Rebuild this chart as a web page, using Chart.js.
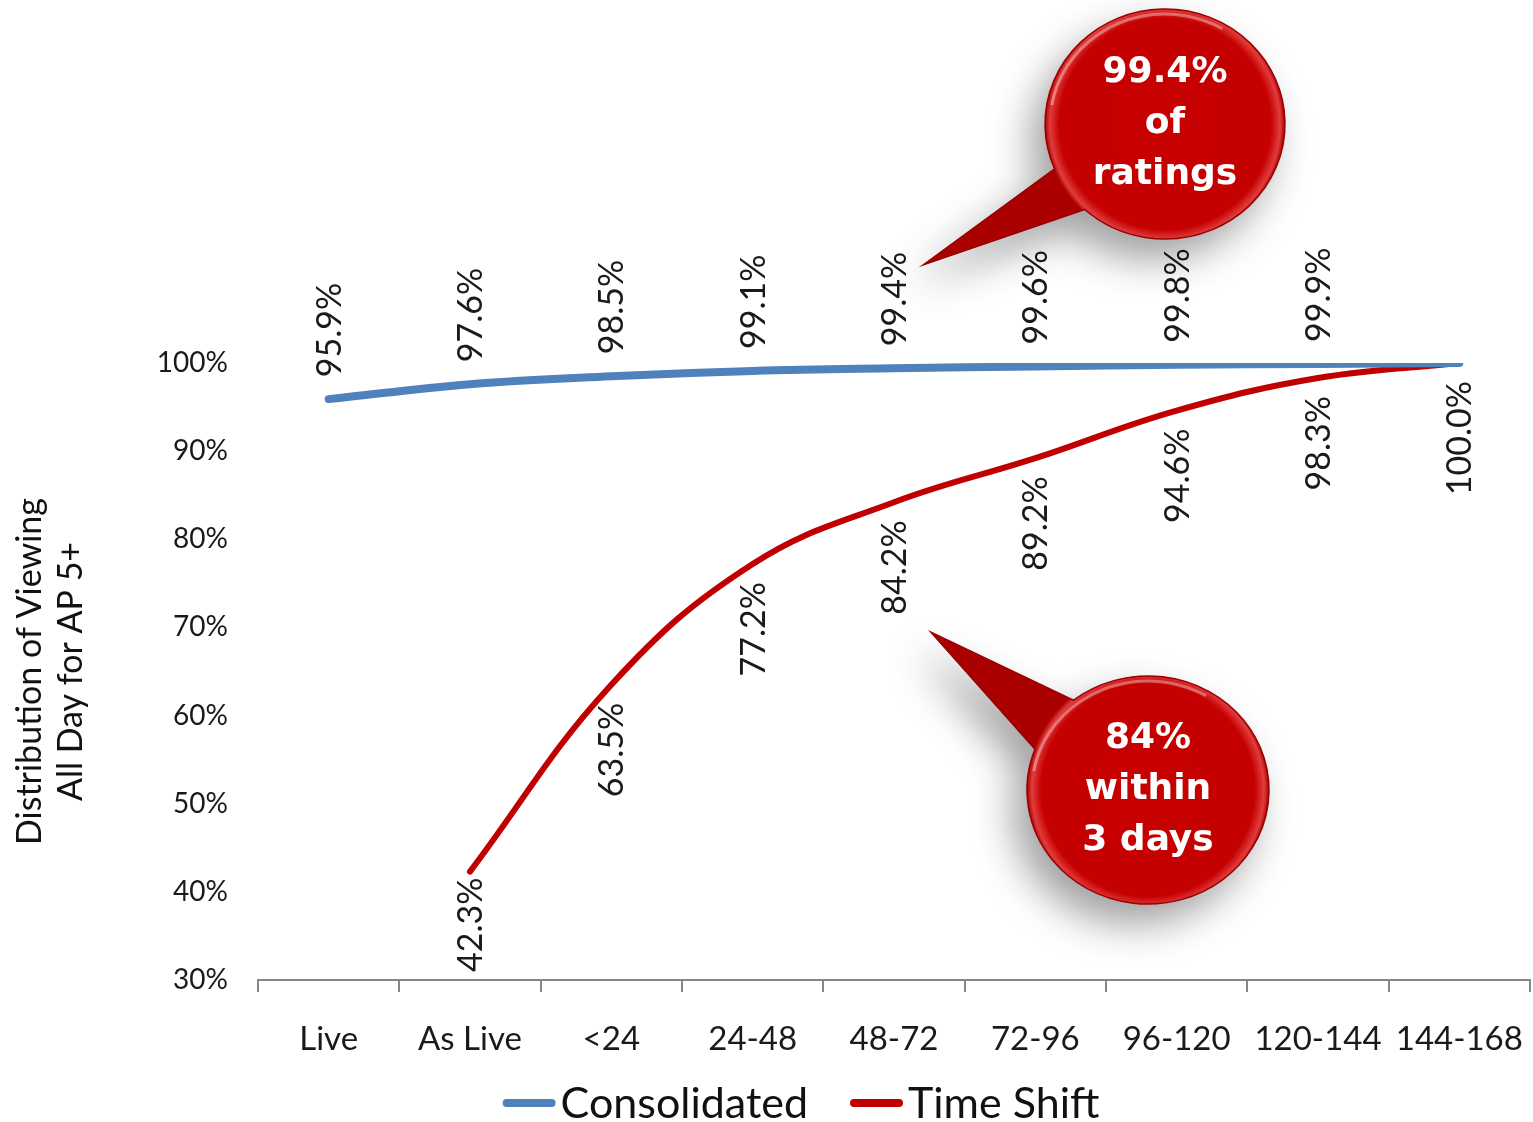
<!DOCTYPE html>
<html><head><meta charset="utf-8">
<script src="https://cdn.jsdelivr.net/npm/chart.js@4/dist/chart.umd.min.js"></script>
<style>html,body{margin:0;padding:0;background:#fff;}#wrap{width:1533px;height:1122px;}</style>
</head><body><div id="wrap"><canvas id="c" width="1533" height="1122"></canvas></div>
<script>
const categories = ['Live','As Live','<24','24-48','48-72','72-96','96-120','120-144','144-168'];
const consolidated = [95.9, 97.6, 98.5, 99.1, 99.4, 99.6, 99.8, 99.9, 100.0];
const timeShift = [null, 42.3, 63.5, 77.2, 84.2, 89.2, 94.6, 98.3, 100.0];
const consolidatedLabels = ['95.9%','97.6%','98.5%','99.1%','99.4%','99.6%','99.8%','99.9%',''];
const timeShiftLabels = ['','42.3%','63.5%','77.2%','84.2%','89.2%','94.6%','98.3%','100.0%'];
const seriesNames = ['Consolidated','Time Shift'];
const seriesColors = ['#4F81BD','#C00000'];
const yTitle = ['Distribution of Viewing','All Day for AP 5+'];
const calloutTop = ['99.4%','of','ratings'];
const calloutBottom = ['84%','within','3 days'];

const FONT = 'Lato, "Open Sans", sans-serif';

const dataLabelPlugin = {
  id: 'dataLabels',
  afterDatasetsDraw(chart) {
    const ctx = chart.ctx;
    const bottom = chart.chartArea.bottom;
    const sets = [[0, consolidatedLabels, 1], [1, timeShiftLabels, -1]];
    ctx.save();
    ctx.font = '34px ' + FONT;
    ctx.fillStyle = '#1a1a1a';
    ctx.textBaseline = 'middle';
    sets.forEach(([di, labels, dir]) => {
      const meta = chart.getDatasetMeta(di);
      meta.data.forEach((pt, i) => {
        const lab = labels[i];
        if (!lab || pt.skip) return;
        ctx.save();
        ctx.translate(pt.x + 1, pt.y);
        ctx.rotate(-Math.PI / 2);
        if (dir > 0) { ctx.textAlign = 'left'; ctx.fillText(lab, 22, 0); }
        else {
          const w = ctx.measureText(lab).width;
          let gap = 18;
          if (pt.y + gap + w > bottom - 10) gap = Math.max(6, bottom - 10 - w - pt.y);
          ctx.textAlign = 'right'; ctx.fillText(lab, -gap, 0);
        }
        ctx.restore();
      });
    });
    ctx.restore();
  }
};

function drawBubble(ctx, cx, cy, rx, ry, a1, a2, tx, ty, lines, lineGap) {
  const d = Math.PI / 180;
  const path = () => {
    ctx.beginPath();
    ctx.moveTo(tx, ty);
    ctx.lineTo(cx + rx * Math.cos(a1 * d), cy + ry * Math.sin(a1 * d));
    ctx.ellipse(cx, cy, rx, ry, 0, a1 * d, (a2 + 360) * d, false);
    ctx.closePath();
  };
  ctx.save();
  ctx.shadowColor = 'rgba(0,0,0,0.38)';
  ctx.shadowBlur = 40;
  ctx.shadowOffsetX = -14;
  ctx.shadowOffsetY = 20;
  path();
  ctx.fillStyle = '#C20000';
  ctx.fill();
  ctx.restore();
  ctx.save();
  path();
  const g = ctx.createRadialGradient(cx, cy, 0, cx, cy, rx);
  g.addColorStop(0, 'rgba(200,0,0,1)');
  g.addColorStop(0.88, 'rgba(196,0,0,1)');
  g.addColorStop(0.96, 'rgba(225,60,60,1)');
  g.addColorStop(1, 'rgba(170,0,0,1)');
  ctx.fillStyle = g;
  ctx.fill();
  ctx.lineWidth = 1.5;
  ctx.strokeStyle = '#9a0000';
  ctx.stroke();
  ctx.beginPath();
  ctx.ellipse(cx, cy, rx - 5, ry - 5, 0, 190 * d, 300 * d, false);
  ctx.strokeStyle = 'rgba(255,255,255,0.35)';
  ctx.lineWidth = 3;
  ctx.stroke();
  ctx.fillStyle = '#ffffff';
  ctx.font = 'bold 36px "DejaVu Sans", sans-serif';
  ctx.textAlign = 'center';
  ctx.textBaseline = 'middle';
  lines.forEach((t, i) => ctx.fillText(t, cx, cy - lineGap + i * lineGap));
  ctx.restore();
}

const calloutPlugin = {
  id: 'callouts',
  afterDraw(chart) {
    const ctx = chart.ctx;
    const xs = chart.scales.x, ys = chart.scales.y;
    const tip1x = xs.getPixelForValue(4) + 29, tip1y = ys.getPixelForValue(100) - 98;
    drawBubble(ctx, 1165, 124, 120, 115, 157, 132, tip1x, tip1y, calloutTop, 51);
    const tip2x = xs.getPixelForValue(4) + 37, tip2y = ys.getPixelForValue(84.2) + 130;
    drawBubble(ctx, 1148, 790, 121, 114, 232, 201, tip2x, tip2y, calloutBottom, 51);
  }
};

const legendPlugin = {
  id: 'customLegend',
  afterDraw(chart) {
    const ctx = chart.ctx;
    ctx.save();
    ctx.font = '43px ' + FONT;
    ctx.textBaseline = 'middle';
    ctx.textAlign = 'left';
    const lineLen = 53, gap = 5, itemGap = 42;
    const widths = seriesNames.map(n => lineLen + gap + ctx.measureText(n).width);
    const total = widths.reduce((a, b) => a + b, 0) + itemGap * (widths.length - 1);
    let x = 801 - total / 2;
    const y = 1103;
    seriesNames.forEach((n, i) => {
      ctx.beginPath();
      ctx.moveTo(x + 4, y);
      ctx.lineTo(x + lineLen - 4, y);
      ctx.strokeStyle = seriesColors[i];
      ctx.lineWidth = 8;
      ctx.lineCap = 'round';
      ctx.stroke();
      ctx.fillStyle = '#111';
      ctx.fillText(n, x + lineLen + gap, y + 1);
      x += widths[i] + itemGap;
    });
    ctx.restore();
  }
};

new Chart(document.getElementById('c'), {
  type: 'line',
  data: {
    labels: categories,
    datasets: [
      { label: seriesNames[0], data: consolidated, borderColor: seriesColors[0], backgroundColor: seriesColors[0],
        borderWidth: 8, pointRadius: 0, tension: 0.4, borderCapStyle: 'round', fill: false },
      { label: seriesNames[1], data: timeShift, borderColor: seriesColors[1], backgroundColor: seriesColors[1],
        borderWidth: 6, pointRadius: 0, tension: 0.4, borderCapStyle: 'round', fill: false }
    ]
  },
  options: {
    responsive: false,
    animation: false,
    devicePixelRatio: 1,
    layout: { padding: { top: 363, right: 3, left: 0, bottom: 62 } },
    plugins: { legend: { display: false }, tooltip: { enabled: false } },
    scales: {
      x: {
        offset: true,
        grid: { display: true, offset: true, drawOnChartArea: false, drawTicks: true, tickLength: 12, color: '#868686', lineWidth: 2 },
        border: { display: true, color: '#868686', width: 2 },
        ticks: { font: { size: 33, family: FONT }, color: '#1a1a1a', padding: 28, maxRotation: 0, autoSkip: false },
        afterFit(s) { s.height = 80; s.paddingLeft = 0; s.paddingRight = 0; }
      },
      y: {
        min: 30, max: 100,
        grid: { display: false },
        border: { display: false },
        ticks: { stepSize: 10, font: { size: 28, family: FONT }, color: '#1a1a1a', padding: 22,
                 callback: v => v + '%' },
        title: { display: true, text: yTitle, font: { size: 34, family: FONT }, color: '#111', padding: { top: 10, bottom: 0 } },
        afterFit(s) { s.width = 258; }
      }
    }
  },
  plugins: [dataLabelPlugin, calloutPlugin, legendPlugin]
});
</script>
</body></html>
